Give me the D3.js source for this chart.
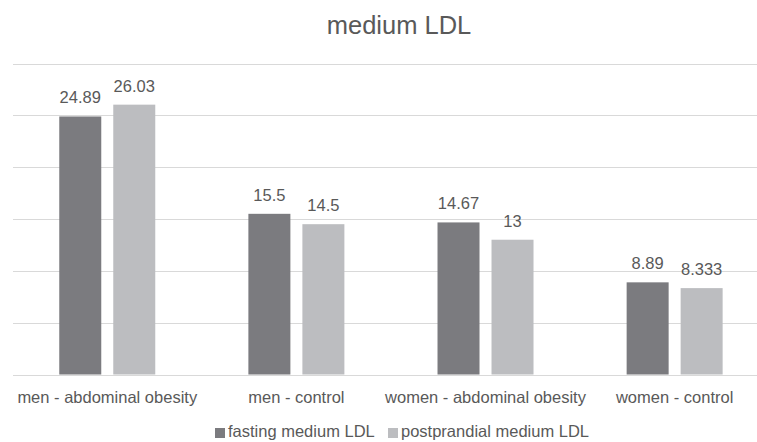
<!DOCTYPE html>
<html><head><meta charset="utf-8">
<script src="https://cdn.jsdelivr.net/npm/d3@7"></script>
<style>body{margin:0;background:#fff}svg{display:block;font-family:"Liberation Sans",Arial,sans-serif}</style>
</head><body><svg id="c" width="757" height="442"></svg>
<script>
const title = "medium LDL";
const categories = ["men - abdominal obesity","men - control","women - abdominal obesity","women - control"];
const seriesNames = ["fasting medium LDL","postprandial medium LDL"];
const fasting = [24.89, 15.5, 14.67, 8.89];
const postprandial = [26.03, 14.5, 13, 8.333];
const fastingLabels = ["24.89","15.5","14.67","8.89"];
const postLabels = ["26.03","14.5","13","8.333"];
const yTicks = [0,5,10,15,20,25,30];
const colors = ["#7b7b7f","#bcbdc0"];

const svg = d3.select("#c");
const x = d3.scaleBand().domain(categories).range([12.7, 769.2]).paddingInner(0).paddingOuter(0);
const xs = d3.scaleBand().domain([0,1]).range([0, 96]).paddingInner(12/54).paddingOuter(0);
const y = d3.scaleLinear().domain([0,30]).range([374.5, 63.5]);

svg.append("g").selectAll("line").data(yTicks).join("line")
  .attr("x1", 13).attr("x2", 757)
  .attr("y1", d => Math.round(y(d)) + 0.5).attr("y2", d => Math.round(y(d)) + 0.5)
  .attr("stroke", "#d9d9d9").attr("stroke-width", 1);

const series = [fasting, postprandial];
const labels = [fastingLabels, postLabels];
series.forEach((vals, si) => {
  const g = svg.append("g");
  g.selectAll("rect").data(categories).join("rect")
    .attr("x", c => x(c) + x.bandwidth()/2 - 48 + xs(si))
    .attr("width", xs.bandwidth())
    .attr("y", (c,i) => y(vals[i]))
    .attr("height", (c,i) => y(0) - y(vals[i]))
    .attr("fill", colors[si]);
  g.selectAll("text").data(categories).join("text")
    .attr("x", c => x(c) + x.bandwidth()/2 - 48 + xs(si) + xs.bandwidth()/2)
    .attr("y", (c,i) => y(vals[i]) - 13)
    .attr("text-anchor", "middle").attr("font-size", 16.5).attr("fill", "#595959")
    .text((c,i) => labels[si][i]);
});

svg.append("g").selectAll("text").data(categories).join("text")
  .attr("x", c => x(c) + x.bandwidth()/2)
  .attr("y", 403)
  .attr("text-anchor", "middle").attr("font-size", 16.5).attr("fill", "#595959")
  .text(d => d);

svg.append("text").attr("x", 399).attr("y", 34).attr("text-anchor", "middle")
  .attr("font-size", 25.5).attr("fill", "#595959").text(title);

const leg = svg.append("g");
const legX = [215, 388];
seriesNames.forEach((n, i) => {
  leg.append("rect").attr("x", legX[i]).attr("y", 428).attr("width", 10).attr("height", 10).attr("fill", colors[i]);
  leg.append("text").attr("x", legX[i] + 13).attr("y", 437).attr("font-size", 16.5).attr("fill", "#595959").text(n);
});
</script></body></html>
